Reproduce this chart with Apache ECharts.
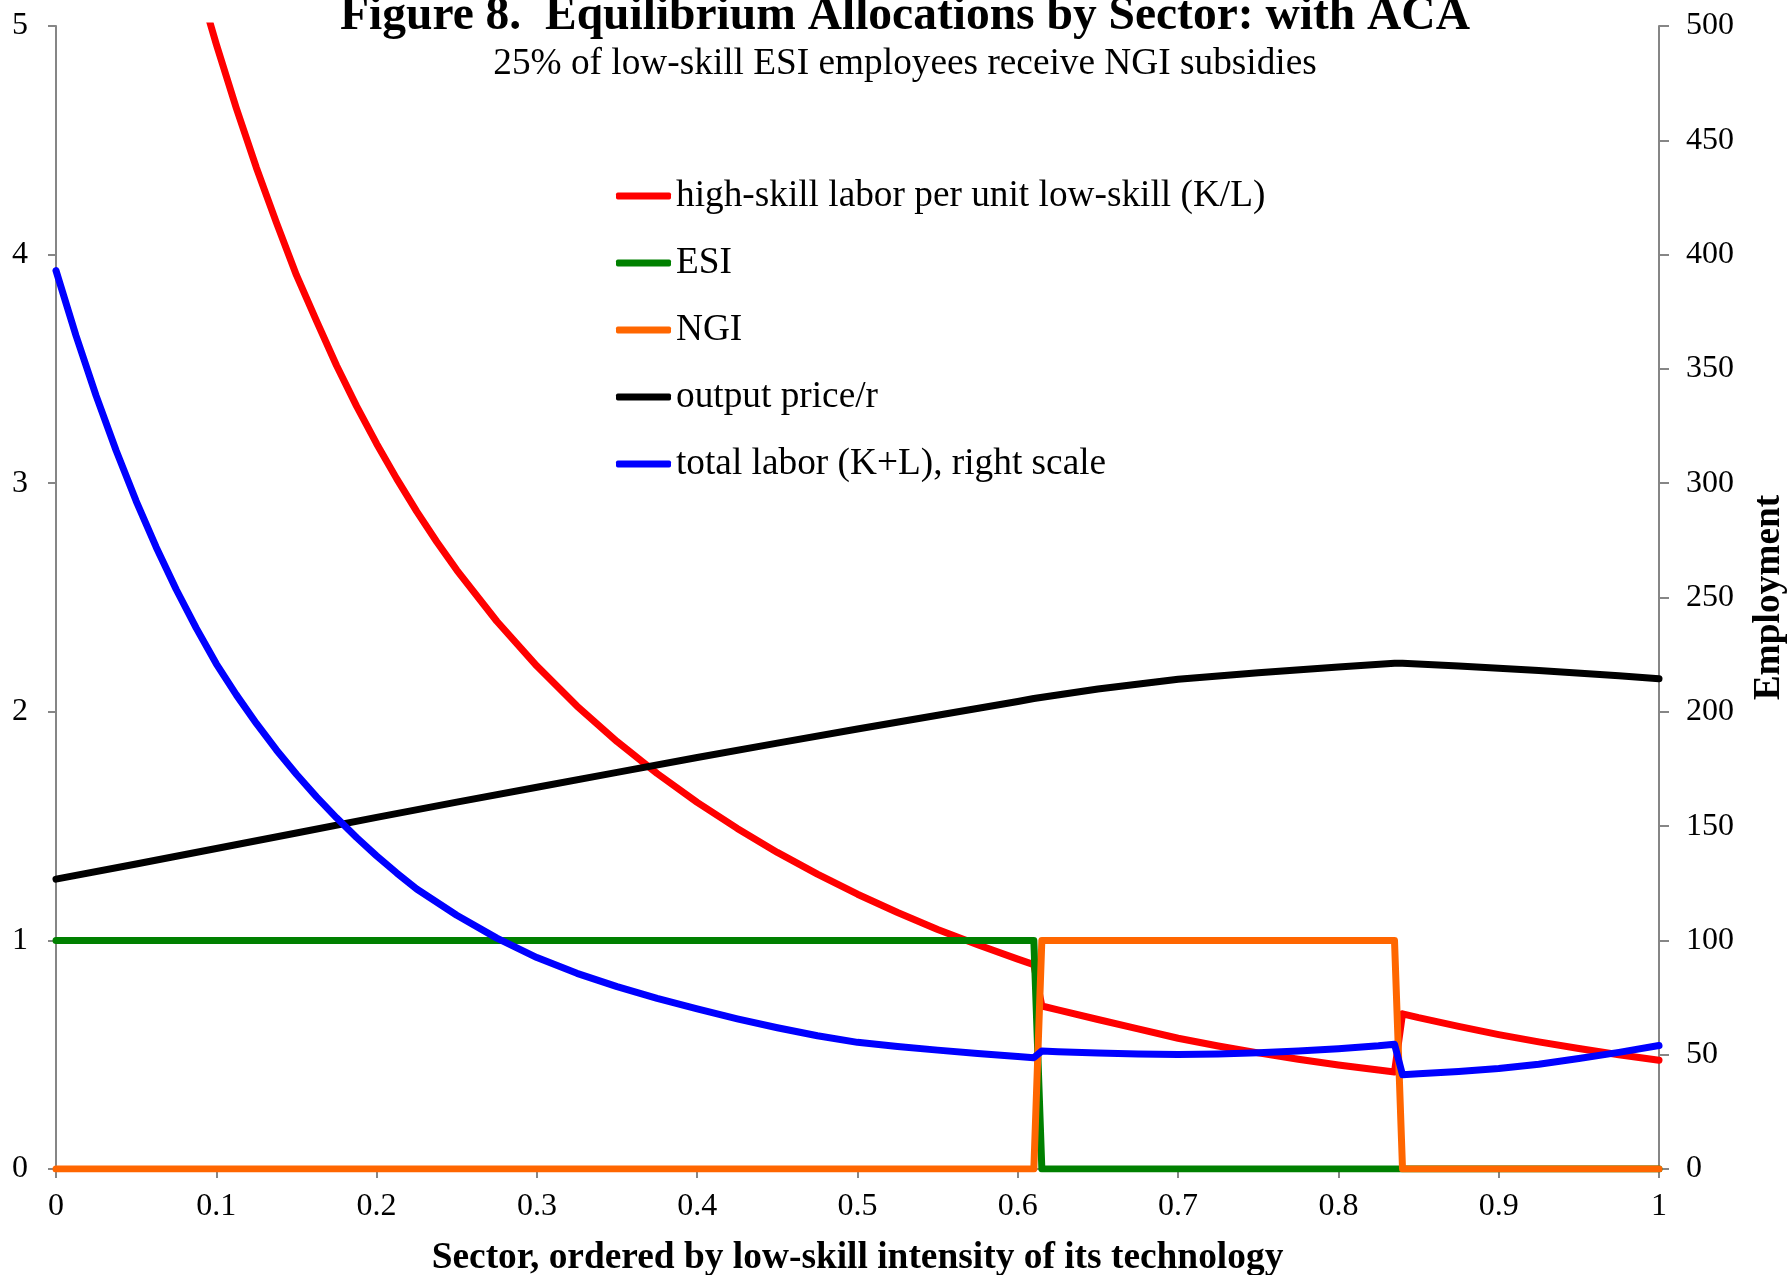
<!DOCTYPE html>
<html>
<head>
<meta charset="utf-8">
<title>Equilibrium Allocations by Sector: with ACA</title>
<script src="https://cdn.jsdelivr.net/npm/echarts@6/dist/echarts.min.js"></script>
<style>
  html, body { margin: 0; padding: 0; background: #ffffff; }
  #chart { width: 1790px; height: 1275px; }
</style>
</head>
<body>
<div id="chart"></div>
<script>
// Sector index (0 = most high-skill intensive, 1 = most low-skill intensive)
const klX = [0, 0.025, 0.05, 0.075, 0.0875, 0.1, 0.1125, 0.125, 0.1375, 0.15, 0.1625, 0.175, 0.1875,
  0.2, 0.2125, 0.225, 0.2375, 0.25, 0.275, 0.3, 0.325, 0.35, 0.375, 0.4, 0.425, 0.45, 0.475, 0.5,
  0.525, 0.55, 0.575, 0.6, 0.61, 0.615, 0.625, 0.65, 0.675, 0.7, 0.725, 0.75, 0.775, 0.8, 0.825,
  0.835, 0.84, 0.85, 0.875, 0.9, 0.925, 0.95, 0.975, 1];
// high-skill labor per unit low-skill (K/L), left scale (runs above 5 near sector 0)
const klValues = [8.17, 7.16, 6.29, 5.55, 5.22, 4.92, 4.64, 4.38, 4.14, 3.91, 3.71, 3.515, 3.337,
  3.173, 3.02, 2.877, 2.744, 2.62, 2.396, 2.2, 2.025, 1.87, 1.73, 1.604, 1.49, 1.385, 1.29, 1.202,
  1.122, 1.048, 0.981, 0.918, 0.894, 0.713, 0.696, 0.654, 0.613, 0.572, 0.538, 0.508, 0.48, 0.455, 0.433,
  0.424, 0.679, 0.662, 0.624, 0.588, 0.556, 0.527, 0.5, 0.476];

// ESI coverage (0/1), left scale
const esiX = [0, 0.61, 0.615, 1];
const esiValues = [1, 1, 0, 0];

// NGI coverage (0/1), left scale
const ngiX = [0, 0.61, 0.615, 0.835, 0.84, 1];
const ngiValues = [0, 0, 1, 1, 0, 0];

// output price / r, left scale
const priceX = [0, 0.05, 0.1, 0.15, 0.2, 0.25, 0.3, 0.35, 0.4, 0.45, 0.5, 0.55, 0.6, 0.61,
  0.65, 0.7, 0.75, 0.8, 0.835, 0.84, 0.875, 0.925, 0.975, 1];
const priceValues = [1.268, 1.334, 1.402, 1.47, 1.538, 1.605, 1.67, 1.735, 1.8, 1.863, 1.925, 1.985, 2.045, 2.058,
  2.1, 2.142, 2.171, 2.196, 2.212, 2.212, 2.2, 2.181, 2.158, 2.145];

// total labor (K+L), right scale
const laborX = [0, 0.0125, 0.025, 0.0375, 0.05, 0.0625, 0.075, 0.0875, 0.1, 0.1125, 0.125, 0.1375,
  0.15, 0.1625, 0.175, 0.1875, 0.2, 0.2125, 0.225, 0.25, 0.275, 0.3, 0.325, 0.35, 0.375, 0.4, 0.425, 0.45,
  0.475, 0.5, 0.525, 0.55, 0.575, 0.6, 0.61, 0.615, 0.625, 0.65, 0.675, 0.7, 0.725, 0.75, 0.775,
  0.8, 0.825, 0.835, 0.84, 0.85, 0.875, 0.9, 0.925, 0.95, 0.975, 1];
const laborValues = [393, 364.5, 338.3, 314.3, 292.2, 272, 253.5, 236.6, 221, 207.4, 194.9, 183.3,
  172.7, 162.8, 153.6, 145, 137, 129.5, 122.5, 111, 101, 92.5, 85.6, 79.8, 74.6, 70, 65.7, 61.8,
  58.3, 55.4, 53.6, 52, 50.5, 49.2, 48.7, 51.6, 51.3, 50.7, 50.3, 50.1, 50.3, 50.8, 51.6,
  52.6, 53.9, 54.6, 41.2, 41.7, 42.7, 44, 45.8, 48.3, 51, 54];

const seriesNames = [
  'high-skill labor per unit low-skill (K/L)',
  'ESI',
  'NGI',
  'output price/r',
  'total labor (K+L), right scale'
];
const seriesColors = ['#ff0000', '#008000', '#ff6600', '#000000', '#0000ff'];

const FONT = "'Liberation Serif', 'Times New Roman', serif";
const AXIS_GRAY = '#868686';

function pairs(xs, ys) {
  return xs.map((x, i) => [x, ys[i]]);
}

function lineSeries(idx, xs, ys, yAxisIndex) {
  return {
    name: seriesNames[idx],
    type: 'line',
    yAxisIndex: yAxisIndex,
    data: pairs(xs, ys),
    showSymbol: false,
    symbol: 'none',
    color: seriesColors[idx],
    lineStyle: { width: 7, color: seriesColors[idx], cap: 'round', join: 'round' },
    emphasis: { disabled: true },
    animation: false,
    z: 2 + idx
  };
}

const chart = echarts.init(document.getElementById('chart'), null, { renderer: 'canvas' });

chart.setOption({
  backgroundColor: '#ffffff',
  animation: false,
  textStyle: { fontFamily: FONT },
  title: [
    {
      text: 'Figure 8.  Equilibrium Allocations by Sector: with ACA',
      left: 905,
      top: -7,
      textAlign: 'center',
      padding: 0,
      textStyle: { fontFamily: FONT, fontSize: 47.5, fontWeight: 'bold', color: '#000' }
    },
    {
      text: '25% of low-skill ESI employees receive NGI subsidies',
      left: 905,
      top: 46,
      textAlign: 'center',
      padding: 0,
      textStyle: { fontFamily: FONT, fontSize: 37.3, fontWeight: 'normal', color: '#000' }
    }
  ],
  legend: {
    orient: 'vertical',
    left: 616,
    top: 176,
    padding: 0,
    itemGap: 27,
    itemWidth: 55,
    itemHeight: 7,
    icon: 'roundRect',
    selectedMode: false,
    data: seriesNames,
    textStyle: { fontFamily: FONT, fontSize: 37.3, color: '#000', lineHeight: 40, padding: [0, 0, 0, 0] }
  },
  grid: {
    left: 56,
    right: 131,
    top: 26,
    bottom: 106,
    outerBoundsMode: 'none',
    containLabel: false
  },
  xAxis: {
    type: 'value',
    min: 0,
    max: 1,
    interval: 0.1,
    name: 'Sector, ordered by low-skill intensity of its technology',
    nameLocation: 'middle',
    nameGap: 71,
    nameTextStyle: { fontFamily: FONT, fontSize: 37.4, fontWeight: 'bold', color: '#000' },
    axisLine: { show: true, onZero: false, lineStyle: { color: AXIS_GRAY, width: 2 } },
    axisTick: { show: true, inside: false, length: 9, lineStyle: { color: AXIS_GRAY, width: 2 } },
    axisLabel: { fontFamily: FONT, fontSize: 32, color: '#000', margin: 22 },
    splitLine: { show: false }
  },
  yAxis: [
    {
      type: 'value',
      position: 'left',
      min: 0,
      max: 5,
      interval: 1,
      axisLine: { show: true, lineStyle: { color: AXIS_GRAY, width: 2 } },
      axisTick: { show: true, inside: false, length: 8, lineStyle: { color: AXIS_GRAY, width: 2 } },
      axisLabel: { fontFamily: FONT, fontSize: 32, color: '#000', margin: 28 },
      splitLine: { show: false }
    },
    {
      type: 'value',
      position: 'right',
      min: 0,
      max: 500,
      interval: 50,
      name: 'Employment',
      nameLocation: 'middle',
      nameRotate: 90,
      nameGap: 92,
      nameTextStyle: { fontFamily: FONT, fontSize: 37.4, fontWeight: 'bold', color: '#000' },
      axisLine: { show: true, lineStyle: { color: AXIS_GRAY, width: 2 } },
      axisTick: { show: true, inside: false, length: 10, lineStyle: { color: AXIS_GRAY, width: 2 } },
      axisLabel: { fontFamily: FONT, fontSize: 32, color: '#000', margin: 27 },
      splitLine: { show: false }
    }
  ],
  series: [
    lineSeries(0, klX, klValues, 0),
    lineSeries(1, esiX, esiValues, 0),
    lineSeries(2, ngiX, ngiValues, 0),
    lineSeries(3, priceX, priceValues, 0),
    lineSeries(4, laborX, laborValues, 1)
  ]
});
</script>
</body>
</html>
